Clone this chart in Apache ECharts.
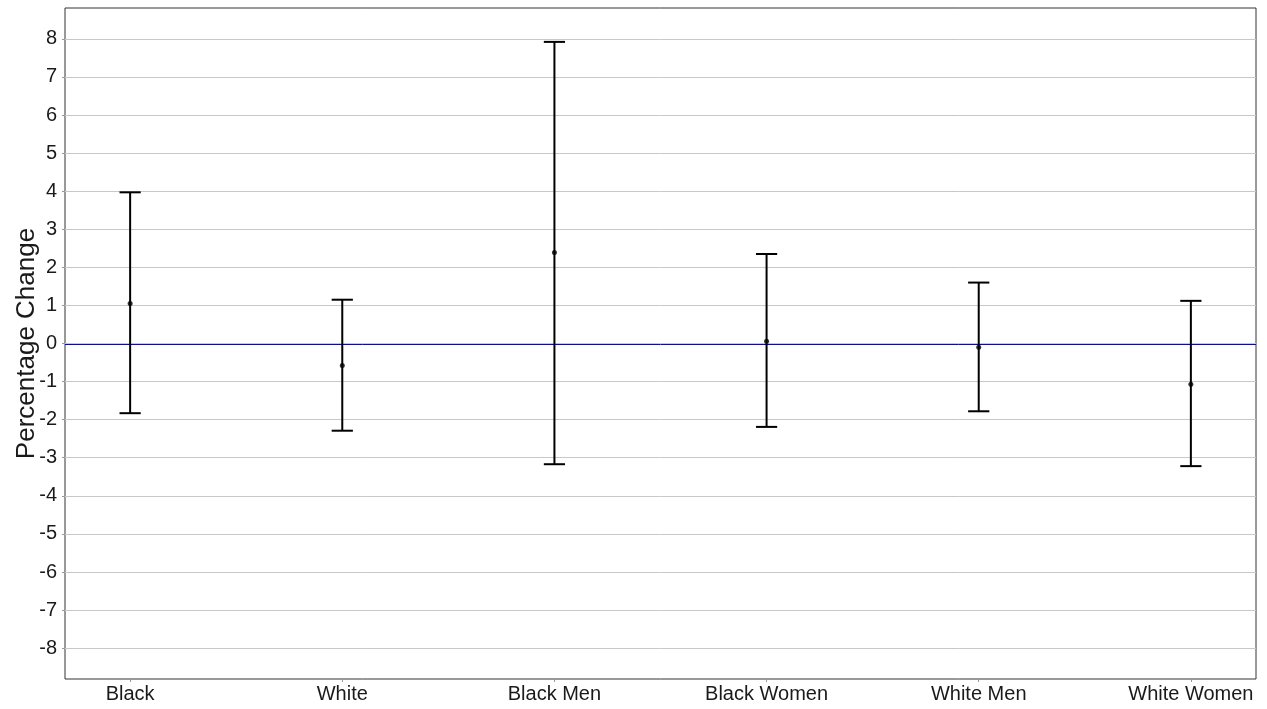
<!DOCTYPE html>
<html>
<head>
<meta charset="utf-8">
<script src="https://cdn.jsdelivr.net/npm/echarts@6/dist/echarts.min.js"></script>
<style>html,body{margin:0;padding:0;background:#fff;}#chart{width:1267px;height:709px;}</style>
</head>
<body>
<div id="chart"></div>
<script>
const categories = ['Black', 'White', 'Black Men', 'Black Women', 'White Men', 'White Women'];
const estimates = [1.05, -0.58, 2.39, 0.06, -0.10, -1.07];
const lowerCI = [-1.83, -2.29, -3.17, -2.19, -1.78, -3.22];
const upperCI = [3.97, 1.15, 7.92, 2.35, 1.60, 1.12];
const yTicks = [-8, -7, -6, -5, -4, -3, -2, -1, 0, 1, 2, 3, 4, 5, 6, 7, 8];
const referenceLine = [0];

const xIdx = categories.map((c, i) => i);
const barData = categories.map((c, i) => [i, lowerCI[i], upperCI[i]]);
const pointData = categories.map((c, i) => [i, estimates[i]]);
const refData = referenceLine.map(v => [0, v]);

const chart = echarts.init(document.getElementById('chart'));
const font = 'Liberation Sans, Arial, sans-serif';
chart.setOption({
  animation: false,
  grid: { left: 65, right: 11, top: 8, bottom: 30, outerBoundsMode: 'none', containLabel: false, show: true, borderColor: '#333', borderWidth: 1, backgroundColor: 'transparent' },
  xAxis: {
    type: 'value', min: -0.307, max: 5.307,
    axisLine: { show: false, onZero: false, lineStyle: { color: 'rgba(0,0,0,0)' } },
    axisTick: { show: true, customValues: xIdx, length: 3, lineStyle: { color: '#999' } },
    axisLabel: { customValues: xIdx, formatter: v => categories[Math.round(v)], color: '#1a1a1a', fontSize: 20, fontFamily: font, margin: 5 },
    splitLine: { show: false }
  },
  yAxis: {
    type: 'value', min: -8.81, max: 8.81,
    name: 'Percentage Change', nameLocation: 'middle', nameGap: 25, nameMoveOverlap: false,
    nameTextStyle: { fontSize: 26, color: '#1a1a1a', fontFamily: font },
    axisLine: { show: false, onZero: false, lineStyle: { color: 'rgba(0,0,0,0)' } },
    axisTick: { show: true, customValues: yTicks, length: 3, lineStyle: { color: '#999' } },
    axisLabel: { customValues: yTicks, color: '#1a1a1a', fontSize: 20, fontFamily: font, margin: 8 },
    splitLine: { show: true, lineStyle: { color: '#c8c8c8', width: 1 } }
  },
  series: [
    {
      type: 'custom',
      data: refData,
      z: 10,
      zlevel: 1,
      silent: true,
      renderItem: function (params, api) {
        const cs = params.coordSys;
        const p = api.coord([api.value(0), api.value(1)]);
        const yy = Math.round(p[1]) + 0.5;
        return {
          type: 'line',
          shape: { x1: cs.x, y1: yy, x2: cs.x + cs.width, y2: yy },
          style: { stroke: '#0000ff', lineWidth: 1 }
        };
      }
    },
    {
      type: 'custom',
      data: barData,
      z: 3,
      zlevel: 2,
      renderItem: function (params, api) {
        const x = api.value(0);
        const lo = api.coord([x, api.value(1)]);
        const hi = api.coord([x, api.value(2)]);
        const half = api.size([0.1, 0])[0] / 2;
        const style = { stroke: '#000', lineWidth: 2 };
        return {
          type: 'group',
          children: [
            { type: 'line', shape: { x1: lo[0], y1: lo[1], x2: hi[0], y2: hi[1] }, style: style },
            { type: 'line', shape: { x1: hi[0] - half, y1: hi[1], x2: hi[0] + half, y2: hi[1] }, style: style },
            { type: 'line', shape: { x1: lo[0] - half, y1: lo[1], x2: lo[0] + half, y2: lo[1] }, style: style }
          ]
        };
      }
    },
    {
      type: 'scatter',
      data: pointData,
      symbol: 'circle', symbolSize: 5,
      itemStyle: { color: '#000' },
      z: 4,
      zlevel: 2
    }
  ]
});
</script>
</body>
</html>
